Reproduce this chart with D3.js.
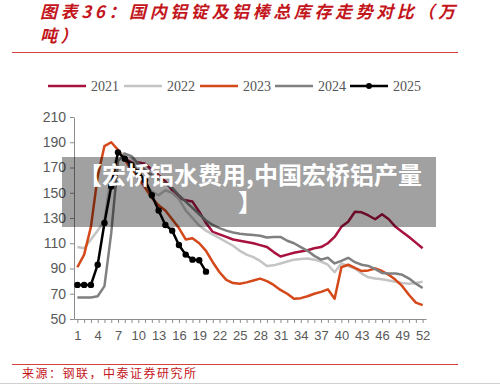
<!DOCTYPE html>
<meta charset="utf-8">
<style>
body { margin: 0; background: #fff; }
svg { display: block; }
.axis text { font: 13px "Liberation Sans", Arial, sans-serif; fill: #595959; }
.axis path, .axis line { stroke: #8c8c8c; }
</style>
<body>
<svg id="chart" width="500" height="384"></svg>
<script src="https://cdn.jsdelivr.net/npm/d3@7"></script>
<script>

// week numbers on the x axis
var weeks = [1,2,3,4,5,6,7,8,9,10,11,12,13,14,15,16,17,18,19,20,21,22,23,24,25,26,
  27,28,29,30,31,32,33,34,35,36,37,38,39,40,41,42,43,44,45,46,47,48,49,50,51,52];
var yTicks = [50, 70, 90, 110, 130, 150, 170, 190, 210];
var years = ["2021", "2022", "2023", "2024", "2025"];

// 万吨
var y2021 = [null,null,null,null,null,null,null,177,174,174,173,168,164,159,152,146,144,143,135,126,
  119,117,115,113,112,111,110,108.5,107,103,99.5,101,102.5,103.5,104.5,106,107,110,115,123,
  127,135,134.5,132,129,133,129,123,119,115,110.5,106];
var y2022 = [107,106,113,120,128,165,181,181,178,168,158,151,148,152,150,145,136,130,124,120,
  117,114,111,108,104,101,99,96,92,92.5,94,95.5,97,97.5,98,97,95.5,93,87,94,
  92,90,86,83,82,81.5,80.5,79.5,78.5,78,78.5,79.5];
var y2023 = [91,101,123,163,187,190,184,176,168,162,154,146,140,136,129,122,113,114,110,104,
  95,87,81,78.5,78,79,80.5,82,80,77,73,70,66,66.5,68,70,71.5,73.5,66,91,
  93,90.5,88,88.5,90,88,85,81,76,69,63,61];
var y2024 = [67,67,67,68,76,118,175,181,179,173,168,164,160,157,154,148,143,138,133,128,
  124.5,122,120,118.5,117.5,117,116.5,116,114.5,115,115,112,110,107,104,100,97,98.5,94,96,
  98.5,95,93,92,89.5,86.5,86,86,85,82,78,74.5];
var y2025 = [77,77,77,93,126,155,182,177,172,166,160,148,136,124.5,120,108.6,101,97,96.5,87.5];

var series = [
  { name: years[0], values: y2021, color: "#a8123e", dots: false },
  { name: years[1], values: y2022, color: "#c4c4c4", dots: false },
  { name: years[2], values: y2023, color: "#d4481a", dots: false },
  { name: years[3], values: y2024, color: "#808080", dots: false },
  { name: years[4], values: y2025, color: "#000000", dots: true }
];

var svg = d3.select("#chart");

var x = d3.scaleLinear().domain([0.5, 52.5]).range([74, 426]);
var y = d3.scaleLinear().domain([50, 210]).range([319, 117]);

// title
var title = svg.append("g")
    .attr("fill", "#c3161c")
    .style("font", "italic bold 17px 'Noto Sans CJK SC'")
    .style("letter-spacing", "3.6px");
title.append("text").attr("x", 40).attr("y", 18).text("图表36：国内铝锭及铝棒总库存走势对比（万");
title.append("text").attr("x", 40).attr("y", 42).text("吨）");

svg.append("line").attr("x1", 12).attr("x2", 458).attr("y1", 52.5).attr("y2", 52.5)
    .attr("stroke", "#d2433f").attr("stroke-width", 1.2);
svg.append("line").attr("x1", 12).attr("x2", 458).attr("y1", 364.5).attr("y2", 364.5)
    .attr("stroke", "#d2433f").attr("stroke-width", 1.2);

svg.append("text").attr("x", 22).attr("y", 378)
    .attr("fill", "#c3161c")
    .style("font", "12px 'Noto Sans CJK SC'")
    .style("letter-spacing", "1.5px")
    .text("来源：钢联，中泰证券研究所");

svg.append("line").attr("x1", 0).attr("x2", 500).attr("y1", 383.5).attr("y2", 383.5)
    .attr("stroke", "#d0d0d0");

// legend
var legendX = [48, 124, 200, 275, 350];
var lg = svg.append("g").selectAll("g").data(series).enter().append("g")
    .attr("transform", function(d, i) { return "translate(" + legendX[i] + ",86)"; });
lg.append("line").attr("x1", 0).attr("x2", 38)
    .attr("stroke", function(d) { return d.color; }).attr("stroke-width", 2.5);
lg.filter(function(d) { return d.dots; }).append("circle")
    .attr("cx", 19).attr("r", 3).attr("fill", "#000");
lg.append("text").attr("x", 43).attr("dy", "0.35em")
    .attr("fill", "#555")
    .style("font", "14px 'Liberation Serif', serif")
    .text(function(d) { return d.name; });

// axes
svg.append("g").attr("class", "axis")
    .attr("transform", "translate(74,0)")
    .call(d3.axisLeft(y).tickValues(yTicks).tickSize(4).tickSizeOuter(0).tickPadding(4))
    .selectAll("text").style("font-size", "14px");

svg.append("g").attr("class", "axis")
    .attr("transform", "translate(0,319)")
    .call(d3.axisBottom(x).tickValues(weeks).tickSize(4).tickSizeOuter(0).tickPadding(8)
      .tickFormat(function(d) { return (d - 1) % 3 === 0 ? d : ""; }));

// lines
var line = d3.line()
    .defined(function(d) { return d != null; })
    .x(function(d, i) { return x(weeks[i]); })
    .y(function(d) { return y(d); });

svg.append("g").selectAll("path").data(series).enter().append("path")
    .attr("fill", "none")
    .attr("stroke", function(d) { return d.color; })
    .attr("stroke-width", 2.5)
    .attr("stroke-linejoin", "round")
    .attr("d", function(d) { return line(d.values); });

svg.append("g").selectAll("circle").data(y2025).enter().append("circle")
    .attr("cx", function(d, i) { return x(weeks[i]); })
    .attr("cy", function(d) { return y(d); })
    .attr("r", 3.2)
    .attr("fill", "#000");

// overlay banner
svg.append("rect").attr("x", 62).attr("y", 157).attr("width", 374).attr("height", 70)
    .attr("fill", "#000").attr("fill-opacity", 0.37);
var ban = svg.append("g").attr("fill", "#fff")
    .attr("text-anchor", "middle")
    .style("font", "bold 24px 'Noto Sans CJK SC'");
ban.append("text").attr("x", 250).attr("y", 184).text("【宏桥铝水费用,中国宏桥铝产量");
ban.append("text").attr("x", 250).attr("y", 211).text("】");

</script>
</body>
